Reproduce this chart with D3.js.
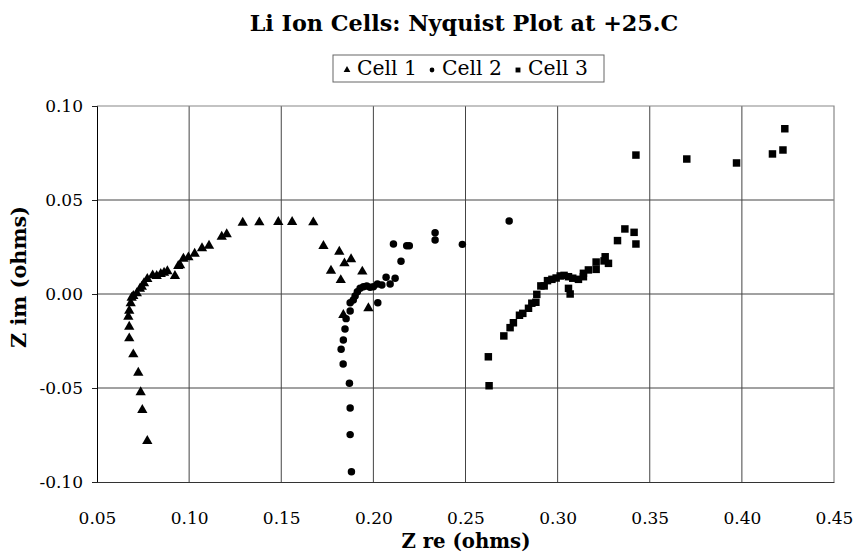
<!DOCTYPE html>
<html><head><meta charset="utf-8">
<script src="https://cdn.jsdelivr.net/npm/d3@7"></script>
<style>body{margin:0;background:#fff}svg{display:block}</style>
</head><body>
<script>
const title = "Li Ion Cells:  Nyquist Plot at +25.C";
const xLabel = "Z re (ohms)";
const yLabel = "Z im (ohms)";
const seriesNames = ["Cell 1", "Cell 2", "Cell 3"];
const xTicks = [0.05,0.10,0.15,0.20,0.25,0.30,0.35,0.40,0.45];
const yTicks = [-0.10,-0.05,0.00,0.05,0.10];

const cell1 = [[0.0773,-0.0782],[0.0746,-0.0617],[0.0737,-0.0523],[0.0724,-0.0419],[0.0697,-0.0321],[0.0675,-0.0236],[0.0675,-0.0174],[0.0670,-0.0121],[0.0675,-0.0089],[0.0683,-0.0049],[0.0688,-0.0020],[0.0697,-0.0011],[0.0716,0.0004],[0.0733,0.0028],[0.0743,0.0039],[0.0755,0.0057],[0.0773,0.0080],[0.0802,0.0099],[0.0824,0.0096],[0.0846,0.0106],[0.0864,0.0113],[0.0882,0.0121],[0.0923,0.0096],[0.0941,0.0149],[0.0951,0.0153],[0.0969,0.0188],[0.0996,0.0195],[0.1030,0.0214],[0.1070,0.0243],[0.1108,0.0257],[0.1177,0.0305],[0.1204,0.0318],[0.1291,0.0379],[0.1381,0.0381],[0.1484,0.0383],[0.1559,0.0383],[0.1674,0.0381],[0.1729,0.0255],[0.1815,0.0225],[0.1879,0.0185],[0.1843,0.0163],[0.1770,0.0124],[0.1823,0.0074],[0.1940,0.0119],[0.1973,-0.0076],[0.1837,-0.0112]];

const cell2 = [[0.1881,-0.0945],[0.1874,-0.0748],[0.1874,-0.0606],[0.1870,-0.0475],[0.1836,-0.0372],[0.1825,-0.0294],[0.1837,-0.0245],[0.1846,-0.0186],[0.1852,-0.0131],[0.1874,-0.0090],[0.1874,-0.0046],[0.1891,-0.0032],[0.1901,-0.0011],[0.1913,0.0012],[0.1928,0.0030],[0.1946,0.0039],[0.1964,0.0043],[0.1982,0.0036],[0.2000,0.0039],[0.2022,0.0053],[0.2046,0.0048],[0.2069,0.0089],[0.2091,0.0053],[0.2118,0.0084],[0.2024,-0.0046],[0.2150,0.0174],[0.2109,0.0266],[0.2181,0.0257],[0.2195,0.0257],[0.2335,0.0326],[0.2335,0.0287],[0.2483,0.0264],[0.2737,0.0388]];

const cell3 = [[0.2628,-0.0488],[0.2624,-0.0334],[0.2708,-0.0223],[0.2742,-0.0179],[0.2760,-0.0153],[0.2793,-0.0113],[0.2811,-0.0103],[0.2842,-0.0076],[0.2860,-0.0049],[0.2882,-0.0044],[0.2887,-0.0002],[0.2909,0.0043],[0.2927,0.0043],[0.2945,0.0071],[0.2969,0.0078],[0.2992,0.0085],[0.3014,0.0096],[0.3035,0.0099],[0.3059,0.0092],[0.3082,0.0084],[0.3113,0.0078],[0.3140,0.0092],[0.3140,0.0110],[0.3167,0.0128],[0.3209,0.0131],[0.3209,0.0170],[0.3258,0.0198],[0.3252,0.0176],[0.3276,0.0163],[0.3325,0.0284],[0.3365,0.0346],[0.3415,0.0328],[0.3425,0.0266],[0.3059,0.0030],[0.3068,0.0000],[0.3425,0.0739],[0.3701,0.0718],[0.3971,0.0697],[0.4166,0.0745],[0.4223,0.0766],[0.4233,0.0879]];

const W = 854, H = 558;
const L = 97, R = 834, T = 106, B = 482;
const serif = "'DejaVu Serif','Liberation Serif',serif";

const svg = d3.select("body").append("svg").attr("width", W).attr("height", H);
const x = d3.scaleLinear().domain([0.05, 0.45]).range([L, R]);
const y = d3.scaleLinear().domain([-0.10, 0.10]).range([B, T]);

function fit(sel, target) {
  const fs = +sel.attr("font-size");
  const w = sel.node().getComputedTextLength();
  if (w > 0) sel.attr("font-size", (fs * target / w).toFixed(2));
  return sel;
}

// gridlines
svg.append("g").selectAll("line").data(xTicks.slice(1, -1)).join("line")
  .attr("x1", d => x(d)).attr("x2", d => x(d)).attr("y1", T).attr("y2", B)
  .attr("stroke", "#444").attr("stroke-width", 1);
svg.append("g").selectAll("line").data(yTicks.slice(1, -1)).join("line")
  .attr("x1", L).attr("x2", R).attr("y1", d => y(d)).attr("y2", d => y(d))
  .attr("stroke", "#444").attr("stroke-width", 1);
// plot frame: top and right lighter
svg.append("path").attr("d", `M${L},${T}H${R}V${B}`)
  .attr("fill", "none").attr("stroke", "#888").attr("stroke-width", 1.2);

// axes
const fmt = v => d3.format(".2f")(v).replace("\u2212", "-");
const xAxis = svg.append("g").attr("transform", `translate(0,${B})`)
  .call(d3.axisBottom(x).tickValues(xTicks).tickFormat(fmt).tickSize(0).tickPadding(30));
const yAxis = svg.append("g").attr("transform", `translate(${L},0)`)
  .call(d3.axisLeft(y).tickValues(yTicks).tickFormat(fmt).tickSize(5).tickPadding(9));
xAxis.select(".domain").attr("stroke", "#333");
yAxis.select(".domain").attr("stroke", "#000");
[xAxis, yAxis].forEach(a => {
  a.selectAll("text").attr("font-family", serif).attr("font-size", 17).attr("fill", "#000");
  a.selectAll(".tick line").attr("stroke", "#222");
});

// titles
fit(svg.append("text").attr("x", 464).attr("y", 31).attr("text-anchor", "middle")
  .attr("font-family", serif).attr("font-weight", "bold").attr("font-size", 20)
  .text(title), 429);
fit(svg.append("text").attr("x", 466).attr("y", 548).attr("text-anchor", "middle")
  .attr("font-family", serif).attr("font-weight", "bold").attr("font-size", 18)
  .text(xLabel), 129);
fit(svg.append("text").attr("transform", "translate(26,277) rotate(-90)").attr("text-anchor", "middle")
  .attr("font-family", serif).attr("font-weight", "bold").attr("font-size", 18)
  .text(yLabel), 142);

// symbols
const sym = [d3.symbolTriangle, d3.symbolCircle, d3.symbolSquare];
const sizes = [46, 44, 56];
const data = [cell1, cell2, cell3];
data.forEach((pts, i) => {
  svg.append("g").selectAll("path").data(pts).join("path")
    .attr("transform", d => `translate(${x(d[0])},${y(d[1])})`)
    .attr("d", d3.symbol().type(sym[i]).size(sizes[i]))
    .attr("fill", "#000");
});

// legend
const lg = svg.append("g");
lg.append("rect").attr("x", 333).attr("y", 55).attr("width", 271).attr("height", 27)
  .attr("fill", "#fff").attr("stroke", "#666").attr("stroke-width", 1);
const lx = [347, 432, 518];
seriesNames.forEach((n, i) => {
  lg.append("path").attr("transform", `translate(${lx[i]},70)`)
    .attr("d", d3.symbol().type(sym[i]).size([20, 18, 24][i])).attr("fill", "#000");
  fit(lg.append("text").attr("x", lx[i] + 10).attr("y", 75)
    .attr("font-family", serif).attr("font-size", 18).text(n), 60);
});
</script>
</body></html>
